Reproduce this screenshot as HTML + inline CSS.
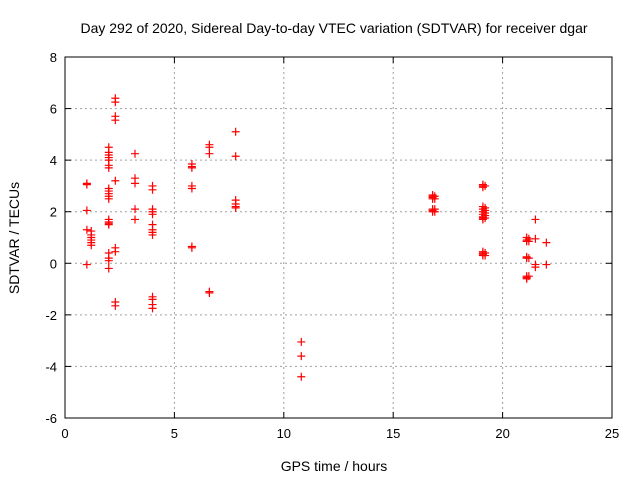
<!DOCTYPE html>
<html><head><meta charset="utf-8"><style>
body{margin:0;background:#fff}
svg{font-family:"Liberation Sans",sans-serif}
</style></head><body>
<svg id="c" width="640" height="480">
<rect x="0" y="0" width="640" height="480" fill="#fff"/>
<text x="334" y="33" font-size="14" text-anchor="middle">Day 292 of 2020, Sidereal Day-to-day VTEC variation (SDTVAR) for receiver dgar</text>
<text x="334" y="471" font-size="14" text-anchor="middle">GPS time / hours</text>
<text transform="translate(19,238) rotate(-90)" font-size="14" text-anchor="middle">SDTVAR / TECUs</text>
<g id="grid"></g><g id="axes"></g><g id="pts"></g>
</svg>
<script>
const xTicks=[0,5,10,15,20,25];
const yTicks=[-6,-4,-2,0,2,4,6,8];
const groupX=[1.0,1.2,2.0,2.3,3.2,4.0,5.8,6.6,7.8,10.8,16.8,16.9,19.1,19.2,21.1,21.2,21.5,22.0];
const groupY=[
[3.1,3.05,2.05,1.3,-0.05],
[1.25,1.1,1.0,0.9,0.8,0.7],
[4.5,4.3,4.2,4.1,4.0,3.8,3.7,2.9,2.8,2.7,2.6,2.5,1.7,1.6,1.55,1.5,0.4,0.2,0.1,-0.2],
[6.4,6.25,5.7,5.55,3.2,0.6,0.45,-1.5,-1.65],
[4.25,3.3,3.1,2.1,1.7],
[3.0,2.85,2.1,2.0,1.9,1.5,1.3,1.2,1.1,-1.3,-1.4,-1.6,-1.75],
[3.85,3.75,3.7,3.0,2.9,0.65,0.6],
[4.6,4.5,4.25,-1.1,-1.15],
[5.1,4.15,2.45,2.3,2.2,2.15],
[-3.05,-3.6,-4.4],
[2.65,2.6,2.55,2.5,2.1,2.05,2.0],
[2.6,2.5,2.1,2.0],
[3.05,3.0,2.95,2.2,2.1,2.0,1.9,1.8,1.75,1.7,0.45,0.4,0.35,0.3],
[3.0,2.15,2.05,1.95,1.85,1.75,0.4,0.3],
[1.0,0.9,0.85,0.25,0.2,-0.5,-0.55,-0.6],
[0.95,0.85,0.2,-0.5],
[1.7,0.95,-0.05,-0.15],
[0.8,-0.05]];
const L=65,R=612,T=57,B=418;
const sx=v=>L+(v-0)/(25-0)*(R-L);
const sy=v=>B-(v+6)/(14)*(B-T);
const NS='http://www.w3.org/2000/svg';
function mk(t,a,p){const e=document.createElementNS(NS,t);for(const k in a)e.setAttribute(k,a[k]);p.appendChild(e);return e;}
const grid=document.getElementById('grid'),axes=document.getElementById('axes'),pts=document.getElementById('pts');
xTicks.forEach(v=>{const x=sx(v);
 if(v>0&&v<25){const g=mk('line',{x1:x,x2:x,y1:T,y2:B,stroke:'#a0a0a0','stroke-dasharray':'2,3'},grid);
 
 }
 mk('line',{x1:x,x2:x,y1:B,y2:B-6,stroke:'#000'},axes);mk('line',{x1:x,x2:x,y1:T,y2:T+6,stroke:'#000'},axes);
 const t=mk('text',{x:x,y:B+20,'font-size':13,'text-anchor':'middle'},axes);t.textContent=v;
 
 });
yTicks.forEach(v=>{const y=sy(v);
 if(v>-6&&v<8){const g=mk('line',{x1:L,x2:R,y1:y,y2:y,stroke:'#a0a0a0','stroke-dasharray':'2,3'},grid);
 
 }
 mk('line',{x1:L,x2:L+6,y1:y,y2:y,stroke:'#000'},axes);mk('line',{x1:R,x2:R-6,y1:y,y2:y,stroke:'#000'},axes);
 const t=mk('text',{x:L-8,y:y+5,'font-size':13,'text-anchor':'end'},axes);t.textContent=v;
 
 });
const fr=mk('rect',{x:L,y:T,width:R-L,height:B-T,fill:'none',stroke:'#000'},axes);


groupX.forEach((gx,i)=>{groupY[i].forEach(v=>{const x=sx(gx),y=sy(v);
 const p=mk('path',{d:`M${x-4} ${y}H${x+4}M${x} ${y-4}V${y+4}`,stroke:'#f00','stroke-width':1.2,fill:'none'},pts);
 
 });});
</script>
</body></html>
